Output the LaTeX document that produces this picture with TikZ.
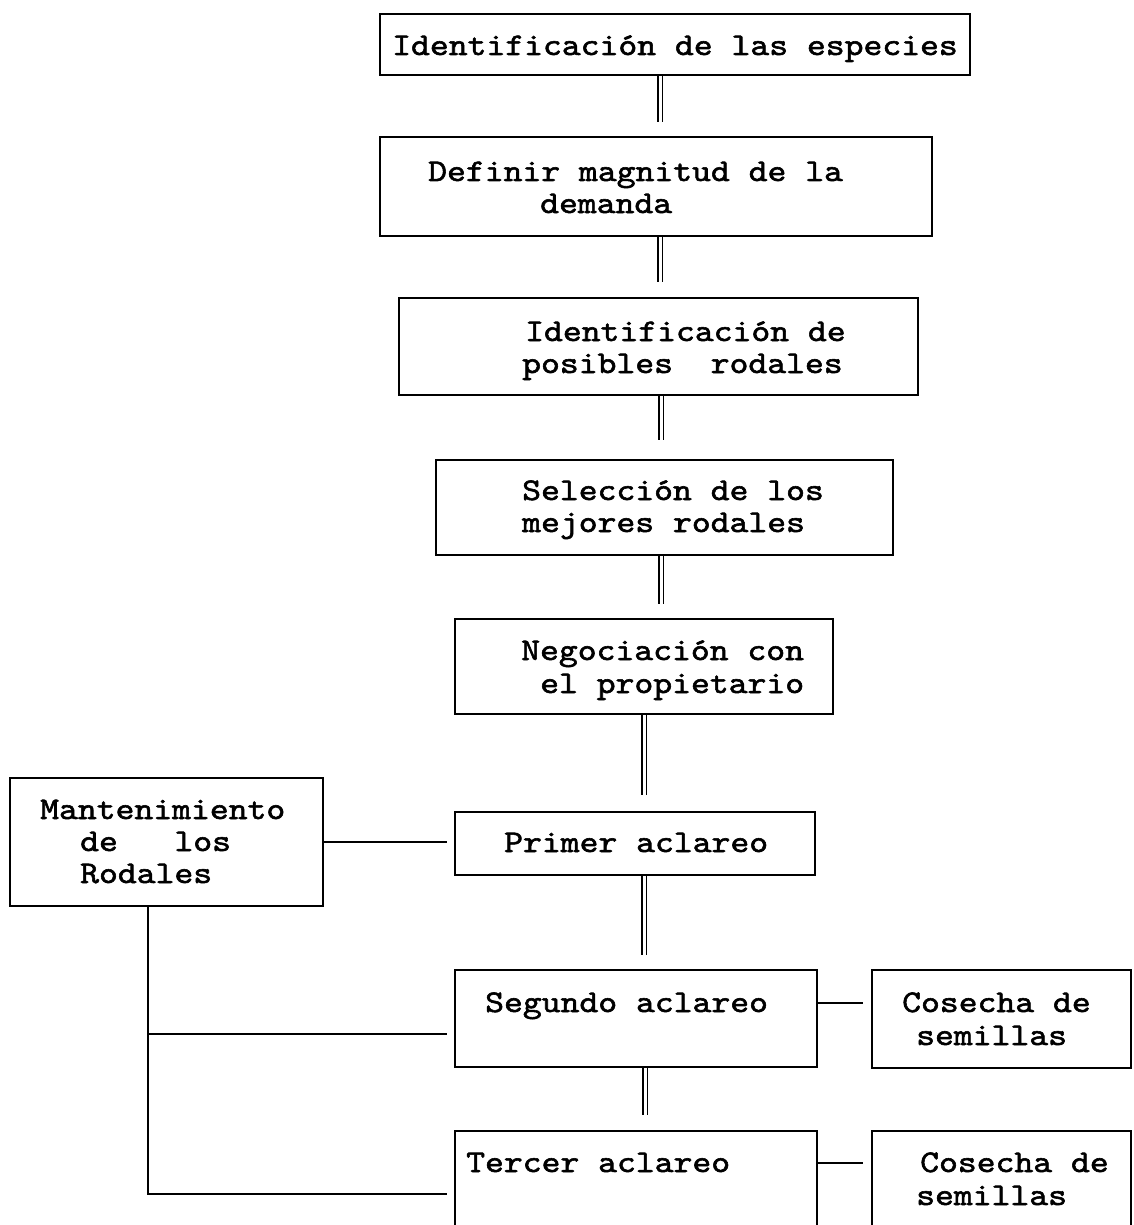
\documentclass[tikz,border=0pt]{standalone}
\usepackage{fontspec}
\newfontfamily\cour[FakeBold=1.8,FakeStretch=1.14]{lmmono10-regular.otf}
\begin{document}
\begin{tikzpicture}[x=1pt,y=-1pt,
  box/.style={draw, line width=2.3pt, rectangle, inner sep=0pt},
  txt/.style={anchor=base west, inner sep=0pt,
    font=\cour\fontsize{31.5}{32}\selectfont},
  dbl/.style={double, line width=1.6pt, double distance=3pt},
  conn/.style={line width=2.3pt}]
\useasboundingbox (0,0) rectangle (1133,1225);
\clip (0,0) rectangle (1133,1225);
% boxes
\node[box, minimum width=590, minimum height=61] (b1) at (675,44.5) {};
\node[box, minimum width=552, minimum height=99] (b2) at (656,186.5) {};
\node[box, minimum width=519, minimum height=97] (b3) at (658.5,346.5) {};
\node[box, minimum width=457, minimum height=95] (b4) at (664.5,507.5) {};
\node[box, minimum width=378, minimum height=95] (b5) at (644,666.5) {};
\node[box, minimum width=360, minimum height=63] (b6) at (635,843.5) {};
\node[box, minimum width=362, minimum height=97] (b7) at (636,1018.5) {};
\node[box, minimum width=362, minimum height=159] (b8) at (636,1210.5) {};
\node[box, minimum width=259, minimum height=98] (c1) at (1001.5,1019) {};
\node[box, minimum width=259, minimum height=159] (c2) at (1001.5,1210.5) {};
\node[box, minimum width=313, minimum height=128] (m) at (166.5,842) {};
% texts
\node[txt] (t1) at (392,55) {Identificación de las especies};
\node[txt] (t2a) at (428,181) {Definir magnitud de la};
\node[txt] (t2b) at (540,213) {demanda};
\node[txt] (t3a) at (525,341) {Identificación de};
\node[txt] (t3b) at (522,373) {posibles~~rodales};
\node[txt] (t4a) at (522,500) {Selección de los};
\node[txt] (t4b) at (522,532) {mejores rodales};
\node[txt] (t5a) at (521,660) {Negociación con};
\node[txt] (t5b) at (540,693) {el propietario};
\node[txt] (t6) at (504,852) {Primer aclareo};
\node[txt] (t7) at (485,1012) {Segundo aclareo};
\node[txt] (t8) at (466,1172) {Tercer aclareo};
\node[txt] (tc1a) at (902,1012) {Cosecha de};
\node[txt] (tc1b) at (916,1045) {semillas};
\node[txt] (tc2a) at (920,1172) {Cosecha de};
\node[txt] (tc2b) at (916,1205) {semillas};
\node[txt] (tma) at (40,819) {Mantenimiento};
\node[txt] (tmb) at (80,851) {de~~~los};
\node[txt] (tmc) at (80,883) {Rodales};
% double connectors
\coordinate (d1) at (660,122);
\coordinate (d2) at (660,282);
\coordinate (d3) at (661,440);
\coordinate (d4) at (661,604);
\coordinate (d5) at (644,795);
\coordinate (d6) at (644,955);
\coordinate (d7) at (645,1115);
\draw[dbl] (d1 |- b1.south) -- (d1);
\draw[dbl] (d2 |- b2.south) -- (d2);
\draw[dbl] (d3 |- b3.south) -- (d3);
\draw[dbl] (d4 |- b4.south) -- (d4);
\draw[dbl] (d5 |- b5.south) -- (d5);
\draw[dbl] (d6 |- b6.south) -- (d6);
\draw[dbl] (d7 |- b7.south) -- (d7);
% side connectors
\coordinate (k1) at (863,1003);
\coordinate (k2) at (863,1163);
\draw[conn] (k1 -| b7.east) -- (k1);
\draw[conn] (k2 -| b8.east) -- (k2);
% maintenance connectors
\coordinate (p1) at (447,842);
\coordinate (p2) at (447,1034);
\coordinate (p3) at (447,1194);
\coordinate (mv) at (148,1194);
\draw[conn] (m.east) -- (p1);
\draw[conn] (mv |- m.south) -- (mv) -- (p3);
\draw[conn] (mv |- p2) -- (p2);
\end{tikzpicture}
\end{document}
